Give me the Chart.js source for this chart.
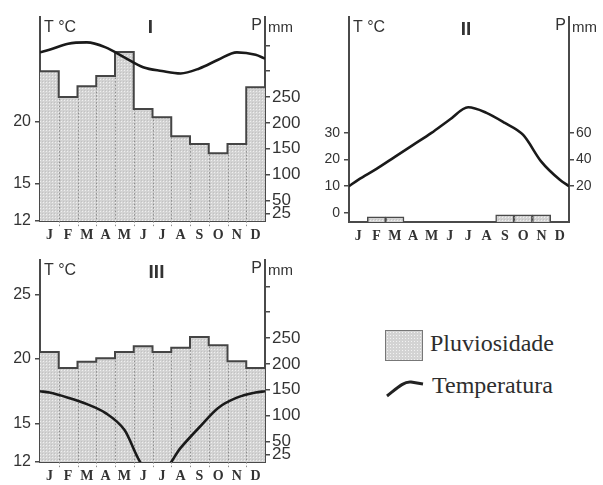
<!DOCTYPE html>
<html>
<head>
<meta charset="utf-8">
<script src="https://cdn.jsdelivr.net/npm/chart.js@4.4.1/dist/chart.umd.min.js"></script>
<style>
  body { margin: 0; background: #fff; width: 603px; height: 485px; overflow: hidden; position: relative; }
  .box { position: absolute; }
  .legend-row { position: absolute; font-family: "Liberation Serif", serif; font-size: 24px; color: #2e2e2e; }
  .swatch { position: absolute; left: 385px; top: 330px; width: 36px; height: 29px; border: 1px solid #777;
    background-color: #d3d3d3;
    background-image: radial-gradient(circle, #f2f2f2 0.7px, transparent 0.9px);
    background-size: 3px 3px; }
</style>
</head>
<body>
<div class="box" style="left:0;top:0;width:310px;height:245px"><canvas id="chartI"></canvas></div>
<div class="box" style="left:300px;top:0;width:303px;height:245px"><canvas id="chartII"></canvas></div>
<div class="box" style="left:0;top:240px;width:310px;height:245px"><canvas id="chartIII"></canvas></div>

<div class="swatch"></div>
<div class="legend-row" style="left:430px;top:330px">Pluviosidade</div>
<svg class="box" style="left:384px;top:376px" width="42" height="24">
  <path d="M3 20 C 12 13, 20 5, 27 6 L 39 8" fill="none" stroke="#222" stroke-width="3"/>
</svg>
<div class="legend-row" style="left:432px;top:372px">Temperatura</div>

<script>
const months = ['J', 'F', 'M', 'A', 'M', 'J', 'J', 'A', 'S', 'O', 'N', 'D'];

// Climograma I
const rainI = [300, 250, 271, 291, 337, 227, 211, 174, 159, 141, 159, 269];
const tempI = [25.8, 26.3, 26.4, 26.0, 25.2, 24.4, 24.1, 23.9, 24.3, 25.0, 25.6, 25.4];
const tempIEnds = [25.6, 25.1];
const tTicksI = [12, 15, 20];
const pTicksI = [25, 50, 100, 150, 200, 250, 300, 350];

// Climograma II
const rainII = [null, -3, -3, null, null, null, null, null, -1.5, -1.5, -1.5, null];
const tempII = [12.4, 16.5, 21, 25.5, 30, 35, 39.6, 37.5, 33.7, 29.2, 19.1, 12.4];
const tempIIEnds = [10, 10];
const tTicksII = [0, 10, 20, 30];
const pTicksII = [20, 40, 60];

// Climograma III
const rainIII = [223, 192, 204, 211, 223, 234, 223, 231, 252, 236, 205, 192];
const tempIII = [17.4, 17.0, 16.5, 15.8, 14.5, 11.7, 11.3, 13.1, 14.7, 16.2, 17.0, 17.4];
const tempIIIEnds = [17.5, 17.5];
const tTicksIII = [12, 15, 20, 25];
const pTicksIII = [25, 50, 100, 150, 200, 250, 300, 350];

// only these precipitation ticks get a number
const pLabelled = [20, 25, 40, 50, 60, 100, 150, 200, 250];

const ink = '#333';
const axisColor = '#4a4a4a';

function dotPattern() {
    const c = document.createElement('canvas');
    c.width = 3; c.height = 3;
    const g = c.getContext('2d');
    g.fillStyle = '#d3d3d3'; g.fillRect(0, 0, 3, 3);
    g.fillStyle = '#efefef'; g.fillRect(1, 1, 1, 1);
    g.fillStyle = '#c2c2c2'; g.fillRect(0, 0, 1, 1);
    return g.createPattern(c, 'repeat');
}

const stepPoints = arr => arr.map((v, i) => ({ x: i, y: v })).concat([{ x: 12, y: arr[11] }]);
const tempPoints = (t, ends) => [{ x: 0, y: ends[0] }]
    .concat(t.map((v, i) => ({ x: i + 0.5, y: v })))
    .concat([{ x: 12, y: ends[1] }]);

// dotted month dividers inside the bars
const dividersPlugin = {
    id: 'dividers',
    afterDatasetDraw(chart, args) {
        if (args.meta.type !== 'bar') return;
        const values = chart.data.datasets[args.index].data;
        const bars = args.meta.data;
        const ctx = chart.ctx;
        ctx.save();
        ctx.strokeStyle = '#8c8c8c';
        ctx.lineWidth = 1;
        ctx.setLineDash([1.5, 2]);
        for (let i = 1; i < bars.length; i++) {
            if (values[i - 1] == null || values[i] == null) continue;
            const a = bars[i - 1], b = bars[i];
            const x = Math.round(b.x - b.width / 2) + 0.5;
            ctx.beginPath();
            ctx.moveTo(x, b.base);
            ctx.lineTo(x, Math.max(a.y, b.y) + 1);
            ctx.stroke();
        }
        ctx.restore();
    }
};

// T °C, P mm and the roman numeral
const labelsPlugin = {
    id: 'climaLabels',
    afterDraw(chart, args, o) {
        const { ctx, chartArea: a } = chart;
        ctx.save();
        ctx.fillStyle = ink;
        ctx.font = '16px "Liberation Sans"';
        ctx.textAlign = 'left';
        ctx.fillText('T °C', a.left + 4, a.top + 15);
        ctx.textAlign = 'right';
        ctx.fillText('P', a.right - 3, a.top + 13);
        ctx.textAlign = 'left';
        ctx.font = '15px "Liberation Sans"';
        ctx.fillText('mm', a.right + 3, a.top + 15);
        ctx.font = 'bold 19px "Liberation Sans"';
        ctx.textAlign = 'center';
        ctx.fillText(o.title, (a.left + a.right) / 2 + o.titleDx, a.top + o.titleDy);
        ctx.restore();
    }
};

function climograma(id, c) {
    const pattern = dotPattern();
    const datasets = [{
        type: 'bar',
        data: c.rain,
        xAxisID: 'x',
        yAxisID: 'yP',
        backgroundColor: pattern,
        borderColor: axisColor,
        borderWidth: c.boxBorders ? { top: 1.5, left: 1.5, right: 1.5, bottom: 0 } : 0,
        borderSkipped: false,
        grouped: false,
        barPercentage: 1,
        categoryPercentage: 1,
        base: c.barBase,
        order: 3
    }];
    if (!c.boxBorders) {
        datasets.push({
            type: 'line',
            data: stepPoints(c.rain),
            xAxisID: 'xs',
            yAxisID: 'yP',
            stepped: 'before',
            borderColor: '#454545',
            borderWidth: 2,
            pointRadius: 0,
            fill: false,
            order: 2
        });
    }
    datasets.push({
        type: 'line',
        data: tempPoints(c.temp, c.tempEnds),
        xAxisID: 'xs',
        yAxisID: 'yT',
        borderColor: '#1a1a1a',
        borderWidth: 2.6,
        pointRadius: 0,
        cubicInterpolationMode: 'monotone',
        fill: false,
        order: 1
    });

    new Chart(document.getElementById(id), {
        type: 'bar',
        data: { labels: months, datasets },
        plugins: [dividersPlugin, labelsPlugin],
        options: {
            responsive: true,
            maintainAspectRatio: false,
            animation: false,
            layout: { padding: { top: c.top, left: 0, right: 0, bottom: 0 } },
            plugins: {
                legend: { display: false },
                tooltip: { enabled: false },
                climaLabels: { title: c.title, titleDx: c.titleDx, titleDy: c.titleDy }
            },
            scales: {
                x: {
                    type: 'category',
                    offset: true,
                    grid: { display: true, drawOnChartArea: false, drawTicks: false },
                    border: { display: true, color: axisColor, width: 2 },
                    ticks: { color: ink, padding: 6, autoSkip: false, maxRotation: 0,
                             font: { family: 'Liberation Serif', size: 14, weight: 'bold' } },
                    afterFit: s => { s.height = c.bottom; }
                },
                xs: { type: 'linear', display: false, offset: false, min: 0, max: 12,
                      grid: { offset: false } },
                yT: {
                    position: 'left',
                    min: c.tMin, max: c.tMax,
                    afterBuildTicks: s => { s.ticks = c.tTicks.map(v => ({ value: v })); },
                    grid: { drawOnChartArea: false, tickLength: 5, color: axisColor, lineWidth: 1.5 },
                    border: { display: true, color: axisColor, width: 2 },
                    ticks: { color: ink, padding: 4, autoSkip: false,
                             font: { family: 'Liberation Sans', size: c.leftFont } },
                    afterFit: s => { s.width = c.left; }
                },
                yP: {
                    position: 'right',
                    min: c.pMin, max: c.pMax,
                    afterBuildTicks: s => { s.ticks = c.pTicks.map(v => ({ value: v })); },
                    grid: { drawOnChartArea: false, tickLength: 5, color: axisColor, lineWidth: 1.5 },
                    border: { display: true, color: axisColor, width: 2 },
                    ticks: { color: ink, padding: 2, autoSkip: false,
                             font: { family: 'Liberation Sans', size: c.rightFont },
                             callback: v => pLabelled.includes(v) ? String(v) : '' },
                    afterFit: s => { s.width = c.right; }
                }
            }
        }
    });
}

climograma('chartI', {
    title: 'I', titleDx: -2, titleDy: 16,
    rain: rainI, temp: tempI, tempEnds: tempIEnds,
    tTicks: tTicksI, pTicks: pTicksI,
    tMin: 12, tMax: 28.45, pMin: 10, pMax: 405,
    top: 17, bottom: 24, left: 40, right: 45,
    leftFont: 16, rightFont: 17
});

climograma('chartII', {
    title: 'II', titleDx: 7, titleDy: 18,
    rain: rainII, temp: tempII, tempEnds: tempIIEnds, boxBorders: true, barBase: -6.8,
    tTicks: tTicksII, pTicks: pTicksII,
    tMin: -3.4, tMax: 73.4, pMin: -6.8, pMax: 146.8,
    top: 17, bottom: 23, left: 49, right: 34,
    leftFont: 14, rightFont: 14
});

climograma('chartIII', {
    title: 'III', titleDx: 4, titleDy: 18,
    rain: rainIII, temp: tempIII, tempEnds: tempIIIEnds,
    tTicks: tTicksIII, pTicks: pTicksIII,
    tMin: 12, tMax: 27.7, pMin: 10, pMax: 401,
    top: 20, bottom: 23, left: 40, right: 45,
    leftFont: 16, rightFont: 17
});
</script>
</body>
</html>
